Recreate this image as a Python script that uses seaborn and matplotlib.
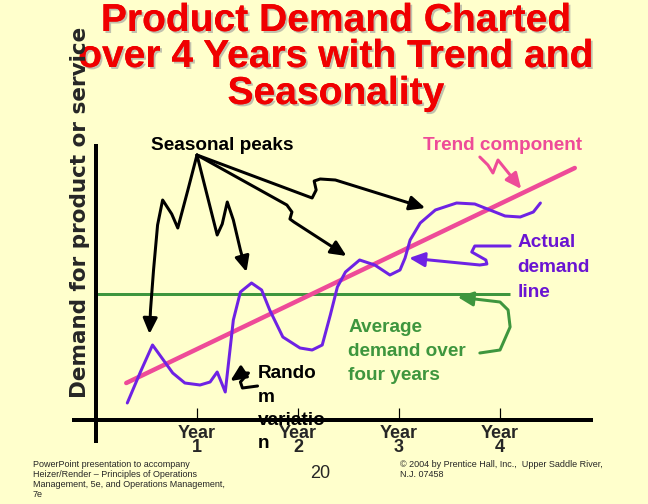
import matplotlib
matplotlib.use("Agg")
import matplotlib.pyplot as plt
import matplotlib.patheffects as pe
from matplotlib.patches import FancyArrowPatch
from matplotlib.path import Path
import seaborn as sns

# DATA (x in years, y in demand units)
demand_year = [0.31, 0.44, 0.56, 0.76, 0.88, 1.03, 1.13, 1.20, 1.28, 1.36, 1.43, 1.54,
               1.64, 1.72, 1.85, 2.02, 2.14, 2.24, 2.32, 2.39, 2.47, 2.61, 2.76, 2.91,
               3.01, 3.06, 3.11, 3.21, 3.36, 3.57, 3.75, 3.90, 4.05, 4.20, 4.33, 4.40]
demand_value = [1.7, 4.8, 7.5, 4.7, 3.7, 3.5, 3.8, 4.8, 2.8, 10.0, 12.8, 13.7,
                13.0, 11.0, 8.3, 7.2, 7.0, 7.5, 10.5, 13.3, 14.8, 16.0, 15.5, 14.5,
                15.0, 16.2, 18.0, 19.7, 21.0, 21.7, 21.6, 21.0, 20.4, 20.3, 20.8, 21.7]
trend_year = [0.30, 4.74]
trend_value = [3.7, 25.2]
average_value = 12.6
average_span = [0.0, 4.10]
year_ticks = [1, 2, 3, 4]
year_labels = ["Year\n1", "Year\n2", "Year\n3", "Year\n4"]

# annotation arrow paths
peak_arrows = [
    [(1.00, 26.5), (0.91, 23.0), (0.81, 19.2), (0.75, 20.6), (0.66, 22.0), (0.61, 19.5), (0.57, 15.0), (0.54, 11.0), (0.53, 8.6)],
    [(1.00, 26.5), (1.10, 22.5), (1.20, 18.5), (1.25, 19.6), (1.30, 21.8), (1.36, 20.0), (1.43, 17.0), (1.49, 14.8)],
    [(1.00, 26.5), (1.89, 21.5), (1.94, 20.8), (1.92, 20.1), (1.96, 19.8), (2.48, 16.4)],
    [(1.00, 26.5), (2.14, 22.2), (2.18, 23.0), (2.16, 23.9), (2.22, 24.1), (2.37, 24.0), (3.26, 21.2)],
]
trend_arrow = [(3.80, 26.3), (3.88, 25.5), (3.93, 24.7), (3.96, 25.5), (3.98, 26.0), (4.10, 24.5), (4.21, 23.1)]
actual_arrow = [(4.10, 17.4), (3.75, 17.4), (3.72, 16.8), (3.86, 16.0), (3.87, 15.6), (3.80, 15.5), (3.10, 16.2)]
average_arrow = [(3.80, 6.7), (4.00, 7.0), (4.10, 9.3), (4.08, 11.0), (4.00, 11.8), (3.58, 12.3)]
random_arrow = [(1.60, 3.4), (1.45, 3.2), (1.43, 3.8), (1.51, 4.7), (1.45, 4.7), (1.33, 3.9)]

BG = "#FFFFCC"
PURPLE = "#6E22E4"
PINK = "#EE4B98"
GREEN = "#3E963E"

sns.set_theme(style="white")
plt.rcParams["font.family"] = ["Liberation Sans", "DejaVu Sans"]

fig = plt.figure(figsize=(9, 7), dpi=72)
fig.patch.set_facecolor(BG)
ax = fig.add_axes([0, 0, 1, 1])
ax.set_facecolor(BG)

# lines
ax.hlines(average_value, average_span[0], average_span[1], color=GREEN, lw=3, zorder=2)
sns.lineplot(x=trend_year, y=trend_value, color=PINK, lw=4.5, ax=ax, zorder=3)
sns.lineplot(x=demand_year, y=demand_value, color=PURPLE, lw=3, sort=False, ax=ax, zorder=4)

ax.set_xlim(-0.95, 5.465)
ax.set_ylim(-8.4, 42)

# axes drawn as crossing spines
for s in ["top", "right"]:
    ax.spines[s].set_visible(False)
ax.spines["left"].set_position(("data", 0))
ax.spines["left"].set_bounds(-2.3, 27.6)
ax.spines["bottom"].set_position(("data", 0))
ax.spines["bottom"].set_bounds(-0.24, 4.92)
for s in ["left", "bottom"]:
    ax.spines[s].set_linewidth(4)
    ax.spines[s].set_color("black")
    ax.spines[s].set_capstyle("butt")
ax.set_yticks([])
ax.set_xticks(year_ticks, year_labels)
ax.tick_params(axis="x", direction="in", length=12, width=1.2, color="black", pad=5,
               labelsize=18, bottom=True)
for lab in ax.get_xticklabels():
    lab.set_fontweight("bold")
    lab.set_linespacing(0.8)


def arrow(pts, color):
    p = FancyArrowPatch(path=Path(pts), arrowstyle="-|>,head_length=1.3,head_width=0.6",
                        mutation_scale=10, lw=3, color=color, zorder=5,
                        joinstyle="round", capstyle="round")
    ax.add_patch(p)


for pts in peak_arrows:
    arrow(pts, "black")
arrow(trend_arrow, PINK)
arrow(actual_arrow, PURPLE)
arrow(average_arrow, GREEN)
arrow(random_arrow, "black")


def stack(x, y0, lines, step, color):
    for i, line in enumerate(lines):
        ax.text(x, y0 - i * step, line, color=color, fontsize=19, fontweight="bold",
                ha="left", va="baseline", zorder=6)


stack(0.545, 27.0, ["Seasonal peaks"], 2.5, "black")
stack(3.24, 27.0, ["Trend component"], 2.5, PINK)
stack(4.17, 17.3, ["Actual", "demand", "line"], 2.5, "#6A14D2")
stack(2.50, 8.8, ["Average", "demand over", "four years"], 2.4, GREEN)
stack(1.60, 4.2, ["Rando", "m", "variatio", "n"], 2.35, "black")

# title
shadow = [pe.withSimplePatchShadow(offset=(2, -2), shadow_rgbFace="#999999", alpha=0.6), pe.Normal()]
for txt, base in [("Product Demand Charted", 31), ("over 4 Years with Trend and", 67), ("Seasonality", 104)]:
    fig.text(336 / 648, 1 - base / 504, txt, ha="center", va="baseline", fontsize=39,
             fontweight="bold", color="#F00000", path_effects=shadow)

# y label
fig.text(80 / 648, 1 - 212 / 504, "Demand for product or service", rotation=90,
         ha="center", va="center", fontsize=21.5, fontweight="bold", family="DejaVu Sans")

# footer
fig.text(33 / 648, 1 - 460 / 504,
         "PowerPoint presentation to accompany\nHeizer/Render \u2013 Principles of Operations\n"
         "Management, 5e, and Operations Management,\n7e",
         ha="left", va="top", fontsize=9, linespacing=1.15)
fig.text(320 / 648, 1 - 478 / 504, "20", ha="center", va="baseline", fontsize=18)
fig.text(400 / 648, 1 - 460 / 504, "\u00a9 2004 by Prentice Hall, Inc.,  Upper Saddle River,\nN.J. 07458",
         ha="left", va="top", fontsize=9, linespacing=1.15)

fig.savefig("out.png", dpi=72, facecolor=BG)
